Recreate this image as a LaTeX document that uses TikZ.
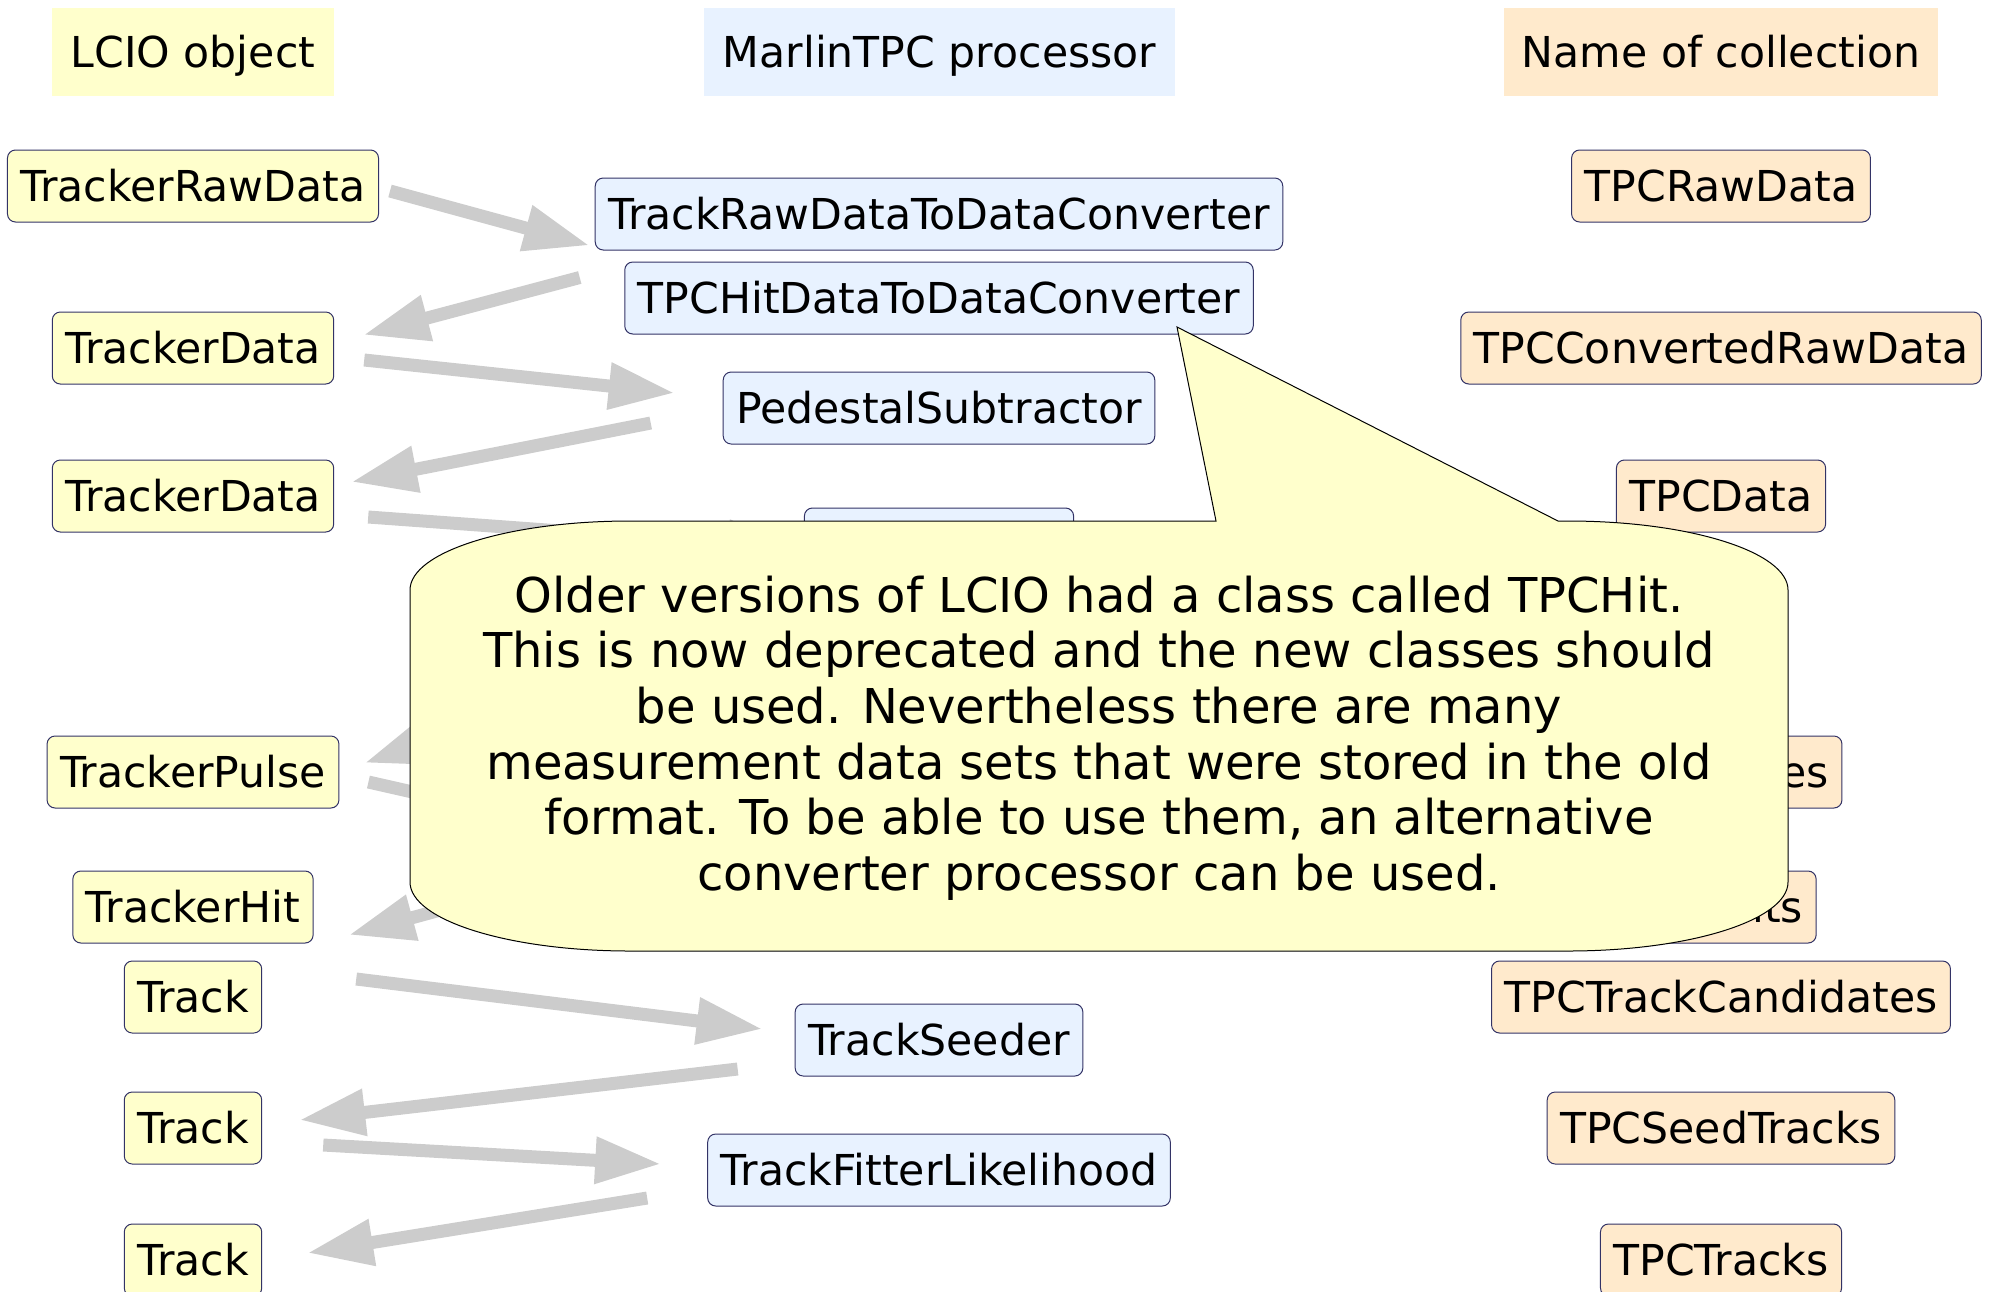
\documentclass[tikz,border=0pt]{standalone}
\usepackage{fontspec}
\setmainfont{DejaVu Sans}
\usetikzlibrary{arrows.meta,calc}

\definecolor{lcioyellow}{RGB}{255,255,204}
\definecolor{procblue}{RGB}{232,242,255}
\definecolor{collpeach}{RGB}{255,234,204}
\definecolor{boxline}{RGB}{51,51,102}
\definecolor{flowgray}{RGB}{204,204,204}

\begin{document}
\begin{tikzpicture}[x=0.5pt,y=0.5pt,yscale=-1,
    every node/.style={font=\fontsize{21.3}{27.8}\selectfont},
    box/.style={draw=boxline,line width=0.5pt,rounded corners=4pt,inner xsep=6.5pt,
        minimum height=36pt,text height=15.5pt,text depth=0pt},
    obj/.style={box,fill=lcioyellow},
    proc/.style={box,fill=procblue},
    coll/.style={box,fill=collpeach},
    head/.style={minimum height=44pt,text height=15.5pt,text depth=0pt},
    flow/.style={draw=flowgray,line width=6.5pt,-{Triangle[length=33pt,width=22pt]}}]
        \useasboundingbox (0,0) rectangle (1989,1291);

        % Text Node
        \node[head,fill=lcioyellow,minimum width=141pt] (hobj) at (193,52) {LCIO object};
        % Text Node
        \node[head,fill=procblue,minimum width=235.5pt] (hproc) at (939.5,52) {MarlinTPC processor};
        % Text Node
        \node[head,fill=collpeach,minimum width=217pt] (hcoll) at (1721,52) {Name of collection};

        %LCIO objects
        \node[obj] (rawobj) at (193,186) {TrackerRawData};
        \node[obj] (data1) at (193,348) {TrackerData};
        \node[obj] (data2) at (193,496) {TrackerData};
        \node[obj] (pulse) at (193,772) {TrackerPulse};
        \node[obj] (hit) at (193,907) {TrackerHit};
        \node[obj] (track1) at (193,997) {Track};
        \node[obj] (track2) at (193,1128) {Track};
        \node[obj] (track3) at (193,1260) {Track};

        %processors
        \node[proc] (rawconv) at (939,214) {TrackRawDataToDataConverter};
        \node[proc] (hitconv) at (939,298) {TPCHitDataToDataConverter};
        \node[proc] (pedsub) at (939,408) {PedestalSubtractor};
        \node[proc] (pulsefind) at (939,544) {PulseFinder};
        \node[proc] (seeder) at (939,1040) {TrackSeeder};
        \node[proc] (fitter) at (939,1170) {TrackFitterLikelihood};

        %collections
        \node[coll] (tpcraw) at (1721,186) {TPCRawData};
        \node[coll] (tpcconv) at (1721,348) {TPCConvertedRawData};
        \node[coll] (tpcdata) at (1721,496) {TPCData};
        \node[coll] (tpcpulses) at (1721,772) {TPCPulses};
        \node[coll] (tpchits) at (1721,907) {TPCHits};
        \node[coll] (tpccand) at (1721,997) {TPCTrackCandidates};
        \node[coll] (tpcseed) at (1721,1128) {TPCSeedTracks};
        \node[coll] (tpctracks) at (1721,1260) {TPCTracks};

        %hidden ends below the note
        \coordinate (hitin) at (800,880);
        \coordinate (hitout) at (800,812);

        %Arrows
        \draw[flow] ($(rawobj.east)+(11,5)$) -- ($(rawconv.south west)+(-5,-5)$);
        \draw[flow] ($(rawconv.south west)+(-15,27)$) -- ($(data1.east)+(29,-13)$);
        \draw[flow] ($(data1.east)+(30,12)$) -- ($(pedsub.west)+(-48,-15)$);
        \draw[flow] ($(pedsub.west)+(-72,15)$) -- ($(data2.east)+(17,-14)$);
        \draw[flow] ($(data2.east)+(34,21)$) -- ($(pulsefind.west)+(-10,4)$);
        \draw[flow] ($(pulsefind.south west)+(-46,50)$) -- ($(pulse.east)+(25,-9)$);
        \draw[flow] ($(pulse.east)+(29,10)$) -- (hitin);
        \draw[flow] (hitout) -- ($(hit.east)+(35,28)$);
        \draw[flow] ($(track1.east)+(94,-18)$) -- ($(seeder.west)+(-32,-11)$);
        \draw[flow] ($(seeder.west)+(-57,29)$) -- ($(track2.east)+(37,-8)$);
        \draw[flow] ($(track2.east)+(61,17)$) -- ($(fitter.west)+(-46,-6)$);
        \draw[flow] ($(fitter.west)+(-60,28)$) -- ($(track3.east)+(45,-7)$);

        %Shape: Callout
        \draw[fill=lcioyellow,line width=0.5pt] (630,521) -- (1216,521) -- (1177,327) -- (1558,521) -- (1568,521)
            arc[start angle=-90,end angle=0,x radius=220,y radius=69] -- (1788,882)
            arc[start angle=0,end angle=90,x radius=220,y radius=69] -- (630,951)
            arc[start angle=90,end angle=180,x radius=220,y radius=69] -- (410,590)
            arc[start angle=180,end angle=270,x radius=220,y radius=69] -- cycle;
        % Text Node
        \node[align=center,font=\fontsize{24}{27.8}\selectfont] (note) at (1099,738) {Older versions of LCIO had a class called TPCHit.\\
            This is now deprecated and the new classes should\\
            be used. Nevertheless there are many\\
            measurement data sets that were stored in the old\\
            format. To be able to use them, an alternative\\
            converter processor can be used.};
\end{tikzpicture}
\end{document}
